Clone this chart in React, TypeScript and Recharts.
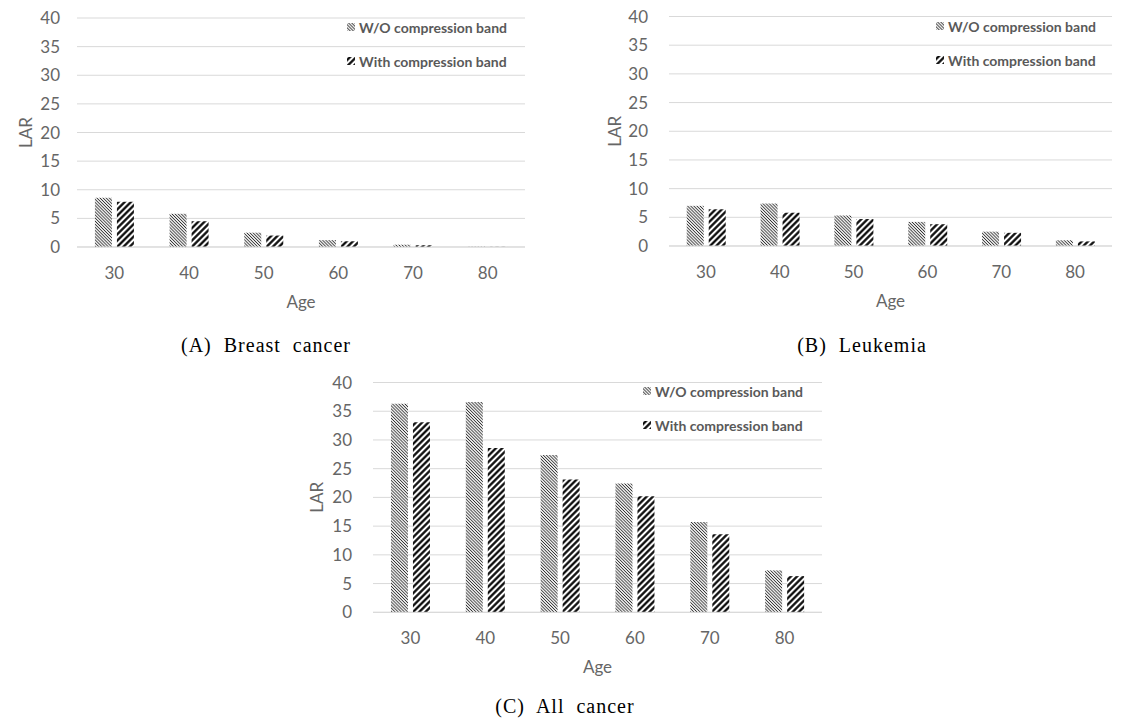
import React from 'react';
import { BarChart, Bar, XAxis, YAxis, CartesianGrid, Legend } from 'recharts';

const ages = ['30', '40', '50', '60', '70', '80'];
const yTicks = [0, 5, 10, 15, 20, 25, 30, 35, 40];
const seriesNames = ['W/O compression band', 'With compression band'];

// LAR values
const breastWithout = [8.6, 5.8, 2.5, 1.2, 0.4, 0.05];
const breastWith = [7.9, 4.5, 2.0, 1.0, 0.3, 0.03];
const leukemiaWithout = [7.0, 7.4, 5.3, 4.2, 2.5, 1.0];
const leukemiaWith = [6.4, 5.8, 4.7, 3.8, 2.3, 0.8];
const allWithout = [36.3, 36.6, 27.4, 22.4, 15.7, 7.3];
const allWith = [33.1, 28.6, 23.1, 20.2, 13.6, 6.3];

const FONT = 'Lato, "Open Sans", sans-serif';
const GRAY = '#666666';

interface PanelProps {
  id: string;
  left: number;
  top: number;
  without: number[];
  withBand: number[];
  margin: { top: number; right: number; bottom: number; left: number };
  tickGap: number;
  larGap: number;
  legendLeft: number;
  legendTop: number;
}

const Panel: React.FC<PanelProps> = ({
  id, left, top, without, withBand, margin, tickGap, larGap, legendLeft, legendTop,
}) => {
  const data = ages.map((age, i) => ({ age, without: without[i], withBand: withBand[i] }));
  const width = 540;
  const height = 320;
  const yAxisW = 77;
  const xAxisH = 60;
  const plotLeft = margin.left + yAxisW;
  const plotTop = margin.top;
  const plotH = height - margin.top - margin.bottom - xAxisH;
  const plotW = width - plotLeft - margin.right;

  const renderLegend = () => (
    <div style={{ fontFamily: FONT, fontSize: 14, fontWeight: 700, color: '#595959' }}>
      {seriesNames.map((name, i) => (
        <div key={name} style={{ display: 'flex', alignItems: 'center', height: 20, marginBottom: 14 }}>
          <svg width={8} height={8} style={{ marginRight: 4 }}>
            <rect width={8} height={8} fill={`url(#${id}-${i === 0 ? 'wo' : 'w'})`} />
          </svg>
          <span>{name}</span>
        </div>
      ))}
    </div>
  );

  const larLabel = (props: any) => {
    const vb = props.viewBox && props.viewBox.height ? props.viewBox : { x: margin.left, y: plotTop, width: yAxisW, height: plotH };
    const x = vb.x + vb.width - larGap;
    const y = vb.y + vb.height / 2;
    return (
      <text x={x} y={y} transform={`rotate(-90 ${x} ${y})`} textAnchor="middle" dominantBaseline="central"
        fontFamily={FONT} fontSize={17} fill={GRAY}>LAR</text>
    );
  };

  const ageLabel = (props: any) => {
    const vb = props.viewBox && props.viewBox.width ? props.viewBox : { x: plotLeft, y: plotTop + plotH, width: plotW, height: xAxisH };
    return (
      <text x={vb.x + vb.width / 2} y={vb.y + 54} textAnchor="middle" dominantBaseline="central"
        fontFamily={FONT} fontSize={17} fill={GRAY}>Age</text>
    );
  };

  return (
    <div style={{ position: 'absolute', left, top, width, height }}>
      <BarChart width={width} height={height} data={data} margin={margin} barCategoryGap="24%" barGap={5}>
        <defs>
          <pattern id={`${id}-wo`} patternUnits="userSpaceOnUse" width={2.2} height={2.2} patternTransform="rotate(-45)">
            <rect width={2.2} height={2.2} fill="#ffffff" />
            <line x1={1.1} y1={0} x2={1.1} y2={2.2} stroke="#333333" strokeWidth={0.9} />
          </pattern>
          <pattern id={`${id}-w`} patternUnits="userSpaceOnUse" width={4.4} height={4.4} patternTransform="rotate(45)">
            <rect width={4.4} height={4.4} fill="#ffffff" />
            <line x1={2.2} y1={0} x2={2.2} y2={4.4} stroke="#000000" strokeWidth={2.2} />
          </pattern>
        </defs>
        <CartesianGrid vertical={false} stroke="#d9d9d9" strokeWidth={1} />
        <XAxis
          dataKey="age"
          height={xAxisH}
          axisLine={{ stroke: '#d9d9d9' }}
          tickLine={false}
          tickSize={0}
          tickMargin={20}
          tick={{ fontFamily: FONT, fontSize: 17, fill: GRAY }}
          interval={0}
          label={{ content: ageLabel }}
        />
        <YAxis
          width={yAxisW}
          domain={[0, 40]}
          ticks={yTicks}
          interval={0}
          axisLine={false}
          tickLine={false}
          tickSize={0}
          tickMargin={tickGap}
          tick={{ fontFamily: FONT, fontSize: 17, fill: GRAY }}
          label={{ content: larLabel }}
        />
        <Legend
          layout="vertical"
          align="center"
          verticalAlign="middle"
          content={renderLegend}
          wrapperStyle={{ left: legendLeft, top: legendTop, width: 190, position: 'absolute' }}
        />
        <Bar dataKey="without" name={seriesNames[0]} fill={`url(#${id}-wo)`} isAnimationActive={false} />
        <Bar dataKey="withBand" name={seriesNames[1]} fill={`url(#${id}-w)`} isAnimationActive={false} />
      </BarChart>
    </div>
  );
};

const captionStyle: React.CSSProperties = {
  position: 'absolute',
  fontFamily: '"Liberation Serif", "Times New Roman", serif',
  fontSize: 20,
  letterSpacing: 1,
  whiteSpace: 'pre',
  color: '#000',
  transform: 'translate(-50%, -50%)',
  lineHeight: 1,
};

export default function App() {
  return (
    <div style={{ position: 'absolute', left: 0, top: 0, width: 1138, height: 727, background: '#fff' }}>
      <Panel
        id="a"
        left={0}
        top={0}
        without={breastWithout}
        withBand={breastWith}
        margin={{ top: 18, right: 15, bottom: 13, left: 0 }}
        tickGap={17}
        larGap={52}
        legendLeft={347}
        legendTop={17}
      />
      <Panel
        id="b"
        left={592}
        top={0}
        without={leukemiaWithout}
        withBand={leukemiaWith}
        margin={{ top: 16.5, right: 20, bottom: 14, left: 0 }}
        tickGap={21}
        larGap={55}
        legendLeft={344}
        legendTop={16}
      />
      <Panel
        id="c"
        left={296}
        top={365}
        without={allWithout}
        withBand={allWith}
        margin={{ top: 17.5, right: 14, bottom: 12.7, left: 0 }}
        tickGap={21}
        larGap={56}
        legendLeft={347}
        legendTop={16}
      />
      <div style={{ ...captionStyle, left: 266, top: 345 }}>(A)  Breast  cancer</div>
      <div style={{ ...captionStyle, left: 862, top: 345 }}>(B)  Leukemia</div>
      <div style={{ ...captionStyle, left: 565, top: 706 }}>(C)  All  cancer</div>
    </div>
  );
}
